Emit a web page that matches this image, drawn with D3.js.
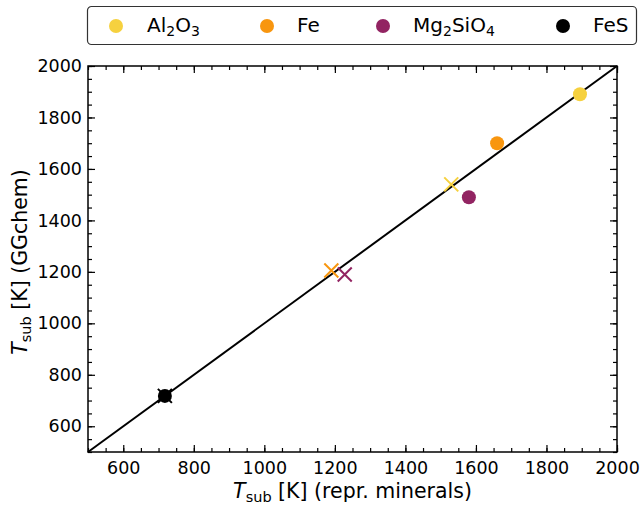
<!DOCTYPE html>
<html>
<head>
<meta charset="utf-8">
<script src="https://cdn.jsdelivr.net/npm/d3@7"></script>
<style>
  body { margin: 0; background: #fff; }
  text { font-family: "DejaVu Sans", sans-serif; }
</style>
</head>
<body>
<div id="root"></div>
<script>
// species and their colours
const species = ["Al\u2082O\u2083", "Fe", "Mg\u2082SiO\u2084", "FeS"]
const species_parts = [
  [["Al", 0], ["2", 1], ["O", 0], ["3", 1]],
  [["Fe", 0]],
  [["Mg", 0], ["2", 1], ["SiO", 0], ["4", 1]],
  [["FeS", 0]]
]
const colors = ["#f6d13f", "#f8960f", "#922462", "#000000"]

// circles: representative minerals vs GGchem
const circle_x = [1895, 1660, 1580, 718]
const circle_y = [1890, 1700, 1490, 718]
// crosses
const cross_x = [1530, 1190, 1228, 718]
const cross_y = [1540, 1205, 1190, 718]

const x_ticks = [600, 800, 1000, 1200, 1400, 1600, 1800, 2000]
const y_ticks = [600, 800, 1000, 1200, 1400, 1600, 1800, 2000]

const W = 641, H = 508
const margin = {top: 66, right: 24, bottom: 56, left: 88}
const width = W - margin.left - margin.right
const height = H - margin.top - margin.bottom

const svg = d3.select("#root").append("svg")
  .attr("width", W).attr("height", H)

const g = svg.append("g")
  .attr("transform", "translate(" + margin.left + "," + margin.top + ")")

const x_scale = d3.scaleLinear().domain([500, 2000]).range([0, width])
const y_scale = d3.scaleLinear().domain([500, 2000]).range([height, 0])

const minor = d3.range(500, 2001, 50)

// ticks inward on all four sides
function tick_axis(axis, scale, values, size){
  return axis(scale).tickValues(values).tickSizeInner(-size).tickSizeOuter(0).tickFormat("")
}
g.append("g").attr("transform", "translate(0," + height + ")")
  .call(tick_axis(d3.axisBottom, x_scale, minor, 4))
g.append("g").attr("transform", "translate(0," + height + ")")
  .call(d3.axisBottom(x_scale).tickValues(x_ticks).tickFormat(d3.format("d"))
    .tickSizeInner(-7).tickSizeOuter(0).tickPadding(10))
g.append("g").call(tick_axis(d3.axisTop, x_scale, minor, 4))
g.append("g").call(tick_axis(d3.axisTop, x_scale, x_ticks, 7))

g.append("g").call(tick_axis(d3.axisLeft, y_scale, minor, 4))
g.append("g")
  .call(d3.axisLeft(y_scale).tickValues(y_ticks).tickFormat(d3.format("d"))
    .tickSizeInner(-7).tickSizeOuter(0).tickPadding(6))
g.append("g").attr("transform", "translate(" + width + ",0)")
  .call(tick_axis(d3.axisRight, y_scale, minor, 4))
g.append("g").attr("transform", "translate(" + width + ",0)")
  .call(tick_axis(d3.axisRight, y_scale, y_ticks, 7))

g.selectAll(".domain").remove()
g.selectAll(".tick line").attr("stroke", "#000").attr("stroke-width", 1.2)
g.selectAll(".tick text").attr("font-size", 17.5).attr("fill", "#000")
  .attr("font-family", "DejaVu Sans")

// one-to-one line
g.append("line")
  .attr("x1", x_scale(500)).attr("y1", y_scale(500))
  .attr("x2", x_scale(2000)).attr("y2", y_scale(2000))
  .attr("stroke", "#000").attr("stroke-width", 2)

// crosses
const cs = 7
const crosses = g.append("g").selectAll("g").data(d3.range(species.length)).enter()
  .append("g")
  .attr("transform", i => "translate(" + x_scale(cross_x[i]) + "," + y_scale(cross_y[i]) + ")")
crosses.append("path")
  .attr("d", `M${-cs},${-cs}L${cs},${cs}M${-cs},${cs}L${cs},${-cs}`)
  .attr("stroke", i => colors[i]).attr("stroke-width", 2).attr("fill", "none")

// circles
g.append("g").selectAll("circle").data(d3.range(species.length)).enter()
  .append("circle")
  .attr("cx", i => x_scale(circle_x[i]))
  .attr("cy", i => y_scale(circle_y[i]))
  .attr("r", 7)
  .attr("fill", i => colors[i])

// frame
g.append("rect").attr("width", width).attr("height", height)
  .attr("fill", "none").attr("stroke", "#000").attr("stroke-width", 1.5)

// axis titles
const xt = svg.append("text")
  .attr("x", margin.left + width / 2).attr("y", 498)
  .attr("text-anchor", "middle").attr("font-size", 20.5)
xt.append("tspan").attr("font-style", "italic").text("T")
xt.append("tspan").attr("font-size", 14.5).attr("dy", 4).text("sub")
xt.append("tspan").attr("dy", -4).text(" [K] (repr. minerals)")

const yt = svg.append("text")
  .attr("transform", "translate(27," + (margin.top + height / 2 + 3) + ") rotate(-90)")
  .attr("text-anchor", "middle").attr("font-size", 20.5)
yt.append("tspan").attr("font-style", "italic").text("T")
yt.append("tspan").attr("font-size", 14.5).attr("dy", 4).text("sub")
yt.append("tspan").attr("dy", -4).text(" [K] (GGchem)")

// legend
const legend = svg.append("g")
legend.append("rect")
  .attr("x", 87.5).attr("y", 6.5).attr("width", 549).attr("height", 38).attr("rx", 4)
  .attr("fill", "#fff").attr("stroke", "#333").attr("stroke-width", 1.2)
const leg_marker_x = [116, 267, 383, 563]
const leg_text_x = [147, 297, 413, 593]
const items = legend.selectAll(".item").data(d3.range(species.length)).enter()
  .append("g").attr("class", "item")
items.append("circle")
  .attr("cx", i => leg_marker_x[i]).attr("cy", 26).attr("r", 7)
  .attr("fill", i => colors[i])
items.each(function(i){
  const t = d3.select(this).append("text")
    .attr("x", leg_text_x[i]).attr("y", 32).attr("font-size", 20)
  let shift = 0
  for (const [s, sub] of species_parts[i]) {
    const dy = sub ? 4 - shift : -shift
    shift = sub ? 4 : 0
    t.append("tspan").attr("dy", dy).attr("font-size", sub ? 14 : 20).text(s)
  }
})
</script>
</body>
</html>
